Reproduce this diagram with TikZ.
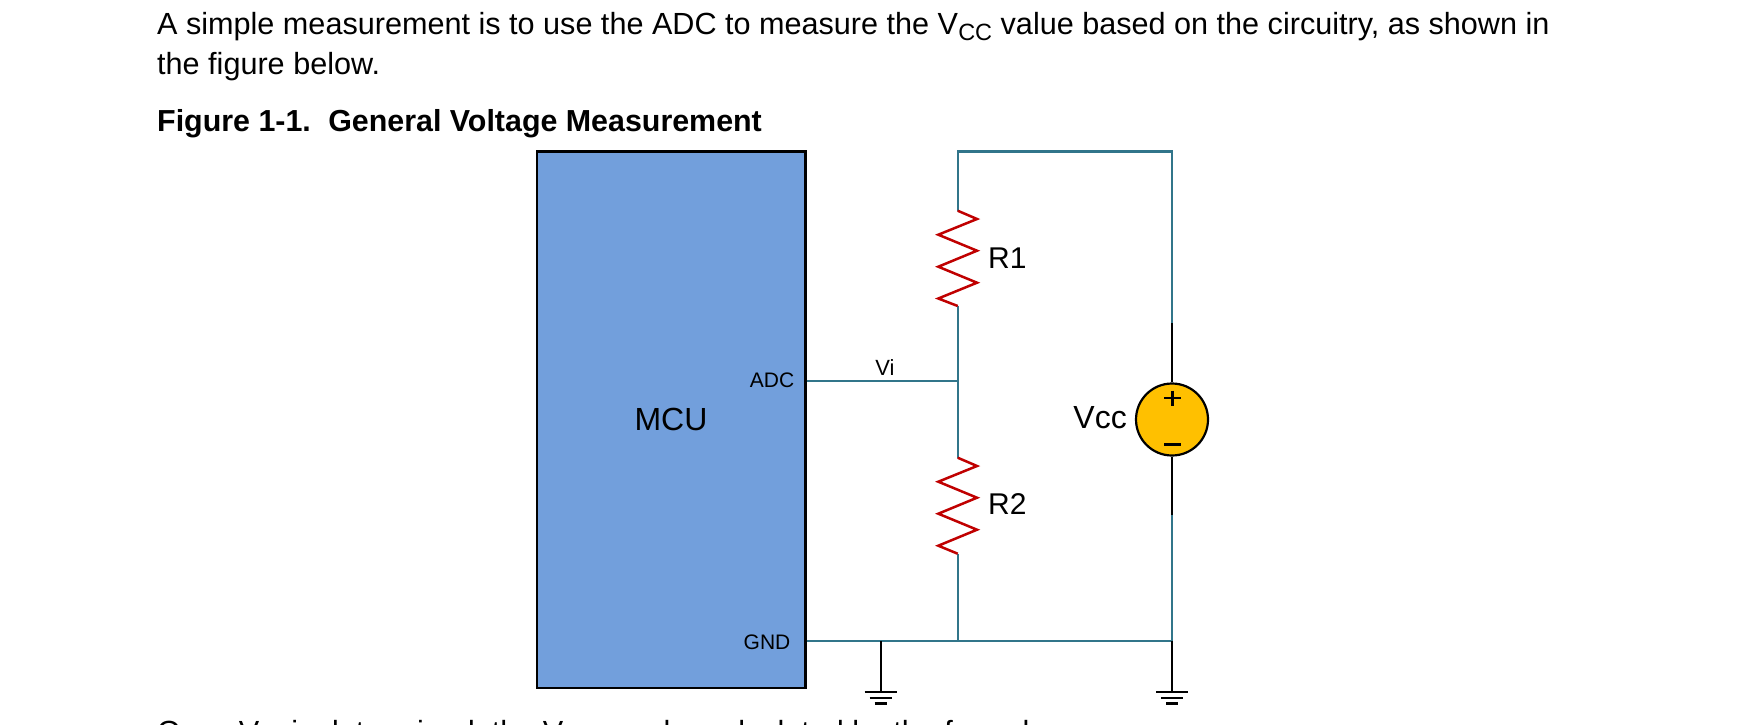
\documentclass[tikz,border=0pt]{standalone}
\usepackage{fontspec}
\setmainfont{Liberation Sans}
\definecolor{wire}{HTML}{31758A}
\definecolor{mcublue}{HTML}{729FDC}
\definecolor{resred}{HTML}{C00000}
\definecolor{srcamber}{HTML}{FFC000}
\tikzset{
  wirel/.style={draw=wire,line width=2.1pt},
  blackl/.style={draw=black,line width=2pt},
  resl/.style={draw=resred,line width=2.5pt,line join=miter},
  txt/.style={inner sep=0pt,anchor=base west,font=\fontsize{30.6}{32}\selectfont},
  lbl/.style={inner sep=0pt,anchor=base,font=\fontsize{30}{32}\selectfont},
  pin/.style={inner sep=0pt,anchor=base,font=\fontsize{21}{23}\selectfont},
  gndbar/.style={draw=black,line width=2.4pt}
}
\newcommand{\subs}[1]{\raisebox{-0.2em}{\fontsize{23.5}{25}\selectfont #1}}
\begin{document}
\begin{tikzpicture}[x=1pt,y=-1pt]
\useasboundingbox (0,0) rectangle (1737,724);
\clip (0,0) rectangle (1737,724);
\fill[white] (0,0) rectangle (1737,724);
\node[txt] (line1) at (157,34.5) {A simple measurement is to use the ADC to measure the V\subs{CC} value based on the circuitry, as shown in};
\node[txt] (line2) at (157,74.5) {the figure below.};
\node[txt,font=\bfseries\fontsize{30.4}{32}\selectfont] (cap) at (157,131) {Figure 1-1.\hspace{0.2em} General Voltage Measurement};
\node[txt] (line3) at (157,742) {Once V\subs{IN} is determined, the V\subs{CC} can be calculated by the formula};

\node[draw=black,fill=mcublue,line width=2.2pt,minimum width=268.5pt,minimum height=536.2pt,inner sep=0pt,anchor=north west] (mcu) at (535.9,150.4) {};
\node[lbl,font=\fontsize{32}{34}\selectfont] (mculbl) at (671,430) {MCU};
\node[pin] (adc) at (772,387) {ADC};
\node[pin] (gnd) at (767,649) {GND};
\node[pin,font=\fontsize{22}{24}\selectfont] (vi) at (885,375) {Vi};

\coordinate (adcpin) at (mcu.east |- 0,381.3);
\coordinate (gndpin) at (mcu.east |- 0,641.3);
\coordinate (nodei) at (957.7,381.3);
\coordinate (nodeg) at (957.7,641.3);
\coordinate (gnda) at (880.7,641.3);
\coordinate (gndb) at (1172,641.3);
\coordinate (topl) at (957.7,151.5);
\coordinate (topr) at (1172,151.5);
\coordinate (r1t) at (957.7,210.7);
\coordinate (r1b) at (957.7,306);
\coordinate (r2t) at (957.7,457.7);
\coordinate (r2b) at (957.7,553.7);
\coordinate (vt) at (1172,323);
\coordinate (vb) at (1172,515);
\coordinate (ga) at (880.7,692);
\coordinate (gb) at (1172,692);

\draw[wirel] (adcpin) -- (nodei);
\draw[wirel] (gndpin) -- (gndb);
\draw[wirel] (r1t) -- (topl) -- (topr) -- (vt);
\draw[wirel] (r1b) -- (r2t);
\draw[wirel] (r2b) -- (nodeg);
\draw[wirel] (vb) -- (gndb);

\draw[resl] (r1t) -- (977,219) -- (938.3,234.7) -- (977,250.7) -- (938.3,266.7) -- (977,282.7) -- (938.3,298.5) -- (r1b);
\draw[resl] (r2t) -- (977,466) -- (938.3,481.7) -- (977,497.7) -- (938.3,513.7) -- (977,529.7) -- (938.3,545.7) -- (r2b);
\node[lbl,anchor=base west] (r1) at (988,268) {R1};
\node[lbl,anchor=base west] (r2) at (988,514) {R2};

\node[circle,draw=black,fill=srcamber,line width=2.2pt,minimum size=72pt,inner sep=0pt] (src) at (1172,419.5) {};
\draw[blackl] (vt) -- (src.north);
\draw[blackl] (src.south) -- (vb);
\node[lbl,anchor=base east,font=\fontsize{32}{34}\selectfont] (vcc) at (1127,428.5) {Vcc};
\draw[black,line width=2.2pt] (1172.5,390.5) -- (1172.5,406) (1164,398) -- (1181,398);
\draw[black,line width=2.5pt] (1164,444.3) -- (1181,444.3);

\draw[blackl] (gnda) -- (ga);
\draw[blackl] (gndb) -- (gb);
\foreach \n/\c in {a/880.7,b/1172}{
  \draw[gndbar] (\c-16,692) -- (\c+16,692);
  \draw[gndbar] (\c-11,698) -- (\c+11,698);
  \draw[gndbar] (\c-6,703.5) -- (\c+6,703.5);
}
\end{tikzpicture}
\end{document}
